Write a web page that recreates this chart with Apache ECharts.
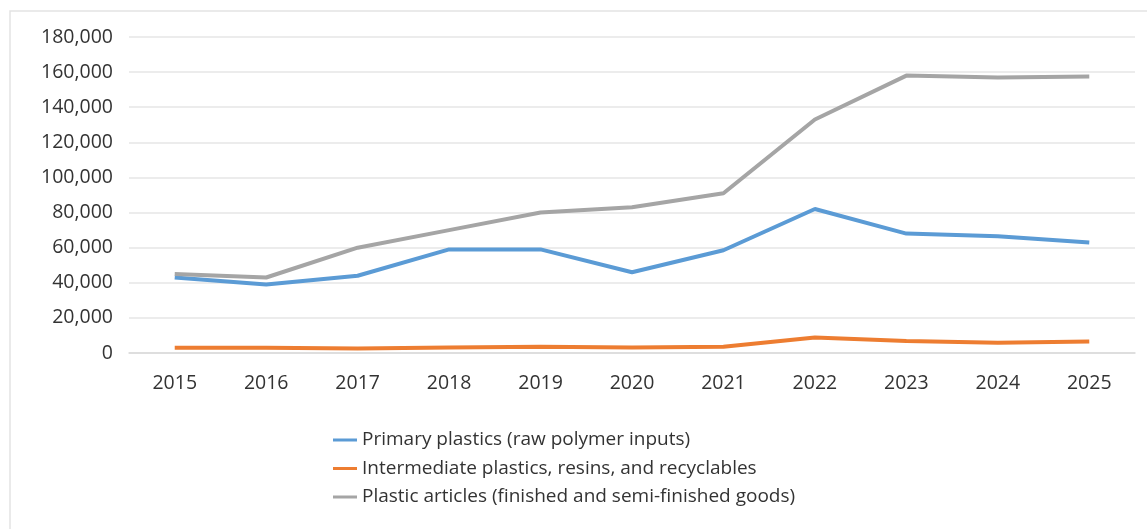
<!DOCTYPE html>
<html>
<head>
<meta charset="utf-8">
<script src="https://cdn.jsdelivr.net/npm/echarts@6/dist/echarts.min.js"></script>
<style>
  html, body { margin: 0; padding: 0; background: #fff; }
  #chart { width: 1147px; height: 529px; }
</style>
</head>
<body>
<div id="chart"></div>
<script>
// Years on the category axis
const years = ['2015', '2016', '2017', '2018', '2019', '2020', '2021', '2022', '2023', '2024', '2025'];

// Series names
const primaryName = 'Primary plastics (raw polymer inputs)';
const intermediateName = 'Intermediate plastics, resins, and recyclables';
const articlesName = 'Plastic articles (finished and semi-finished goods)';

// Series values
const primaryValues = [43000, 39000, 44000, 59000, 59000, 46000, 58500, 82000, 68000, 66500, 63000];
const intermediateValues = [3000, 3000, 2500, 3200, 3500, 3200, 3500, 8800, 6900, 5900, 6500];
const articlesValues = [45000, 43000, 60000, 70000, 80000, 83000, 91000, 133000, 158000, 157000, 157500];

// Value axis ticks
const yMin = 0;
const yMax = 180000;
const yStep = 20000;

const fontFamily = 'Open Sans, Liberation Sans, sans-serif';
const textColor = '#333333';

const chart = echarts.init(document.getElementById('chart'), null, { renderer: 'canvas' });

chart.setOption({
  animation: false,
  backgroundColor: '#ffffff',
  graphic: [{
    type: 'rect',
    shape: { x: 10, y: 11, width: 1160, height: 540 },
    style: { fill: 'none', stroke: '#e3e3e3', lineWidth: 1.5 },
    silent: true
  }],
  grid: { left: 129, right: 12, top: 37, bottom: 176, containLabel: false },
  xAxis: {
    type: 'category',
    data: years,
    boundaryGap: true,
    axisLine: { show: true, lineStyle: { color: '#d9d9d9', width: 1.5 } },
    axisTick: { show: false },
    axisLabel: { color: textColor, fontFamily: fontFamily, fontSize: 19.5, margin: 20 }
  },
  yAxis: {
    type: 'value',
    min: yMin,
    max: yMax,
    interval: yStep,
    axisLine: { show: false },
    axisTick: { show: false },
    splitLine: { lineStyle: { color: '#e6e6e6', width: 1.5 } },
    axisLabel: {
      color: textColor,
      fontFamily: fontFamily,
      fontSize: 19.5,
      margin: 16,
      formatter: v => v.toLocaleString('en-US')
    }
  },
  legend: {
    orient: 'vertical',
    left: 328,
    top: 425,
    itemWidth: 24,
    itemHeight: 3,
    itemGap: 8.5,
    icon: 'rect',
    textStyle: { color: textColor, fontFamily: fontFamily, fontSize: 19, lineHeight: 20, padding: [0, 0, 0, 0] },
    data: [primaryName, intermediateName, articlesName]
  },
  series: [
    {
      name: primaryName,
      type: 'line',
      data: primaryValues,
      symbol: 'none',
      lineStyle: { color: '#5b9bd5', width: 4 },
      itemStyle: { color: '#5b9bd5' }
    },
    {
      name: intermediateName,
      type: 'line',
      data: intermediateValues,
      symbol: 'none',
      lineStyle: { color: '#ed7d31', width: 4 },
      itemStyle: { color: '#ed7d31' }
    },
    {
      name: articlesName,
      type: 'line',
      data: articlesValues,
      symbol: 'none',
      lineStyle: { color: '#a5a5a5', width: 4 },
      itemStyle: { color: '#a5a5a5' }
    }
  ]
});
</script>
</body>
</html>
